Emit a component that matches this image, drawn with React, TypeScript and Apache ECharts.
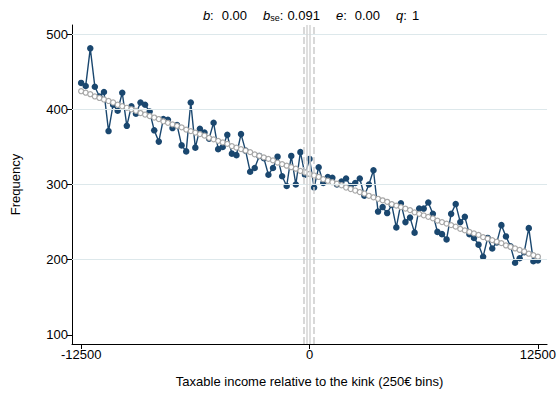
import React, { useEffect, useRef } from "react";
import * as echarts from "echarts";

// bins of 250€ from -12500 to 12500
const BIN_START = -12500;
const BIN_WIDTH = 250;

const observed: number[] = [
  435, 431, 481, 430, 417, 423, 371, 406, 398, 422,
  378, 404, 394, 409, 406, 397, 372, 357, 387, 386,
  375, 379, 352, 344, 409, 349, 374, 369, 361, 382,
  347, 350, 366, 341, 339, 367, 345, 317, 322, 338,
  335, 313, 322, 337, 311, 298, 338, 300, 343, 313,
  334, 296, 323, 302, 310, 309, 300, 304, 308, 298,
  302, 308, 285, 300, 319, 264, 270, 262, 273, 243,
  275, 250, 256, 236, 268, 268, 276, 261, 237, 234,
  227, 261, 274, 250, 257, 234, 229, 220, 204, 229,
  215, 223, 246, 231, 218, 196, 202, 210, 242, 198,
  199,
];

const counterfactual: number[] = [
  424, 422, 420, 417, 415, 413, 411, 409, 406, 404,
  402, 400, 398, 395, 393, 391, 389, 387, 384, 382,
  380, 378, 376, 373, 371, 369, 367, 365, 362, 360,
  358, 356, 354, 351, 349, 347, 345, 343, 340, 338,
  336, 334, 332, 329, 327, 325, 323, 321, 318, 316,
  314, 312, 310, 307, 305, 303, 301, 299, 296, 294,
  292, 290, 288, 285, 283, 281, 279, 277, 274, 272,
  270, 268, 266, 263, 261, 259, 257, 255, 252, 250,
  248, 246, 244, 241, 239, 237, 235, 233, 230, 228,
  226, 224, 222, 219, 217, 215, 213, 211, 208, 206,
  204,
];

const xTicks: number[] = [-12500, 0, 12500];
const yTicks: number[] = [100, 200, 300, 400, 500];
const gridLines: number[] = [200, 300, 400, 500];
const dashedLines: number[] = [-300, 250];
const solidLines: number[] = [-150, 0];

const NAVY = "#1a476f";
const GREY = "#a8a8a8";
const FONT = "Liberation Sans, Arial, Helvetica, sans-serif";

export default function App() {
  const ref = useRef<HTMLDivElement>(null);
  useEffect(() => {
    if (!ref.current) return;
    const chart = echarts.init(ref.current, undefined, { renderer: "svg" });
    const obsData = observed.map((v, i) => [BIN_START + i * BIN_WIDTH, v]);
    const cfData = counterfactual.map((v, i) => [BIN_START + i * BIN_WIDTH, v]);
    chart.setOption({
      animation: false,
      backgroundColor: "#ffffff",
      textStyle: { fontFamily: FONT },
      grid: { left: 72, right: 10, top: 25, bottom: 50, containLabel: false },
      xAxis: {
        type: "value",
        min: -13000,
        max: 13000,
        name: "Taxable income relative to the kink (250€ bins)",
        nameLocation: "middle",
        nameGap: 31,
        nameTextStyle: { fontSize: 13, color: "#000", fontFamily: FONT, verticalAlign: "top" },
        axisLine: { show: true, onZero: false, lineStyle: { color: "#000", width: 1 } },
        axisTick: { show: true, length: 5, lineStyle: { color: "#000" }, customValues: xTicks },
        axisLabel: {
          fontSize: 13,
          color: "#000",
          fontFamily: FONT,
          margin: 4,
          customValues: xTicks,
          formatter: (v: number) => String(v),
        },
        splitLine: { show: false },
      },
      yAxis: {
        type: "value",
        min: 88,
        max: 512,
        name: "Frequency",
        nameLocation: "middle",
        nameGap: 50,
        nameRotate: 90,
        nameTextStyle: { fontSize: 13, color: "#000", fontFamily: FONT },
        axisLine: { show: true, onZero: false, lineStyle: { color: "#000", width: 1 } },
        axisTick: { show: true, length: 5, lineStyle: { color: "#000" }, customValues: yTicks },
        axisLabel: {
          fontSize: 13,
          color: "#000",
          fontFamily: FONT,
          margin: 4,
          customValues: yTicks,
          formatter: (v: number) => String(v),
        },
        splitLine: { show: false },
      },
      graphic: [
        {
          type: "text",
          x: 311,
          y: 6,
          style: {
            text: "{i|b}{c|:}{v|0.00}{i2|b}{s|se}{c|:}{v2|0.091}{i2|e}{c|:}{v|0.00}{i2|q}{c|:}{v3|1}",
            align: "center",
            fill: "#000",
            rich: {
              i: { fontStyle: "italic", fontSize: 13, fontFamily: FONT, lineHeight: 16, verticalAlign: "bottom" },
              i2: { fontStyle: "italic", fontSize: 13, fontFamily: FONT, lineHeight: 16, padding: [0, 0, 0, 16], verticalAlign: "bottom" },
              c: { fontSize: 13, fontFamily: FONT, lineHeight: 16, verticalAlign: "bottom" },
              v: { fontSize: 13, fontFamily: FONT, lineHeight: 16, padding: [0, 0, 0, 8], verticalAlign: "bottom" },
              v2: { fontSize: 13, fontFamily: FONT, lineHeight: 16, padding: [0, 0, 0, 4], verticalAlign: "bottom" },
              v3: { fontSize: 13, fontFamily: FONT, lineHeight: 16, padding: [0, 0, 0, 5], verticalAlign: "bottom" },
              s: { fontSize: 9, fontFamily: FONT, lineHeight: 12, verticalAlign: "bottom" },
            },
          },
        },
      ],
      series: [
        {
          type: "line",
          name: "grid",
          data: [],
          silent: true,
          z: 1,
          markLine: {
            silent: true,
            symbol: "none",
            label: { show: false },
            animation: false,
            data: [
              ...gridLines.map((v) => ({ yAxis: v, lineStyle: { color: "#dde8eb", width: 1, type: "solid" } })),
              ...dashedLines.map((v) => ({ xAxis: v, lineStyle: { color: "#cccccc", width: 1.5, type: [7, 3] } })),
              ...solidLines.map((v) => ({ xAxis: v, lineStyle: { color: "#d4d4d4", width: 1.5, type: "solid" } })),
            ],
          },
        },
        {
          type: "line",
          name: "observed",
          data: obsData,
          symbol: "circle",
          symbolSize: 6.5,
          showSymbol: true,
          itemStyle: { color: NAVY },
          lineStyle: { color: NAVY, width: 1.4 },
          z: 3,
        },
        {
          type: "line",
          name: "counterfactual",
          data: cfData,
          symbol: "circle",
          symbolSize: 5,
          showSymbol: true,
          itemStyle: { color: "#ffffff", borderColor: GREY, borderWidth: 1.2 },
          lineStyle: { color: GREY, width: 1.2 },
          z: 4,
        },
      ],
    });
    return () => chart.dispose();
  }, []);
  return <div ref={ref} style={{ position: "fixed", left: 0, top: 0, width: 559, height: 394 }} />;
}
